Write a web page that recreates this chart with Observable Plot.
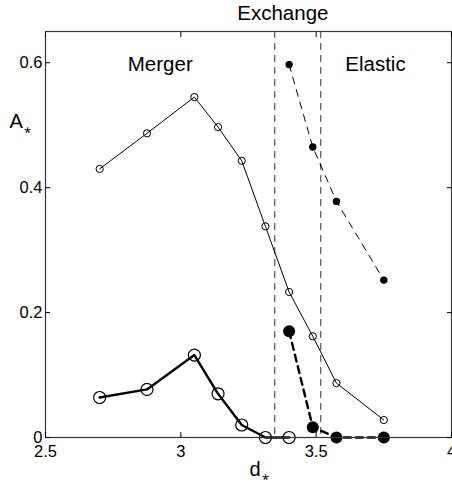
<!DOCTYPE html>
<html>
<head>
<meta charset="utf-8">
<script src="https://cdn.jsdelivr.net/npm/d3@7"></script>
<script src="https://cdn.jsdelivr.net/npm/@observablehq/plot@0.6"></script>
<style>
  html, body { margin: 0; padding: 0; background: #fff; }
</style>
</head>
<body>
<div id="chart"></div>
<script>
// Tick labels
const xTicks = [2.5, 3, 3.5, 4];
const yTicks = [0, 0.2, 0.4, 0.6];

// Series: thin solid line, small open circles
const thinOpenD = [2.7, 2.875, 3.05, 3.1375, 3.225, 3.3125, 3.4, 3.4875, 3.575, 3.75];
const thinOpenA = [0.430, 0.487, 0.545, 0.497, 0.443, 0.338, 0.233, 0.162, 0.087, 0.028];

// Series: thick solid line, large open circles
const thickOpenD = [2.7, 2.875, 3.05, 3.1375, 3.225, 3.3125, 3.4];
const thickOpenA = [0.064, 0.077, 0.132, 0.070, 0.020, 0, 0];

// Series: thin dashed line, small filled dots
const thinFilledD = [3.4, 3.4875, 3.575, 3.75];
const thinFilledA = [0.597, 0.465, 0.378, 0.252];

// Series: thick dashed line, large filled dots
const thickFilledD = [3.4, 3.4875, 3.575, 3.75];
const thickFilledA = [0.170, 0.0165, 0, 0];

// Regime boundaries
const boundaries = [3.347, 3.517];

// Regime labels
const regimeNames = ["Merger", "Exchange", "Elastic"];
const regimeX = [2.924, 3.377, 3.719];
const regimeY = [0.586, 0.668, 0.586];

// Axis titles
const yTitle = "A\u204E";
const xTitle = "d\u204E";

const toRows = (xs, ys) => xs.map((x, i) => ({x, y: ys[i]}));
const thinOpen = toRows(thinOpenD, thinOpenA);
const thickOpen = toRows(thickOpenD, thickOpenA);
const thinFilled = toRows(thinFilledD, thinFilledA);
const thickFilled = toRows(thickFilledD, thickFilledA);
const regimes = regimeNames.map((name, i) => ({name, x: regimeX[i], y: regimeY[i]}));

const font = "'Liberation Sans', Arial, Helvetica, sans-serif";

const chart = Plot.plot({
  width: 452,
  height: 483,
  marginLeft: 45,
  marginRight: 1,
  marginTop: 31,
  marginBottom: 46,
  style: {fontFamily: font, background: "#fff", color: "#000", overflow: "visible"},
  x: {domain: [2.5, 4]},
  y: {domain: [0, 0.65]},
  marks: [
    // vertical regime boundaries
    Plot.ruleX(boundaries, {stroke: "#333", strokeWidth: 1, strokeDasharray: "7,5"}),
    // thin solid with small open circles
    Plot.line(thinOpen, {x: "x", y: "y", stroke: "#000", strokeWidth: 1}),
    Plot.dot(thinOpen, {x: "x", y: "y", r: 3.6, stroke: "#000", strokeWidth: 1, fill: "none"}),
    // thick solid with large open circles
    Plot.line(thickOpen, {x: "x", y: "y", stroke: "#000", strokeWidth: 2.4}),
    Plot.dot(thickOpen, {x: "x", y: "y", r: 6, stroke: "#000", strokeWidth: 1.2, fill: "none"}),
    // thin dashed with small filled dots
    Plot.line(thinFilled, {x: "x", y: "y", stroke: "#000", strokeWidth: 1, strokeDasharray: "7,6"}),
    Plot.dot(thinFilled, {x: "x", y: "y", r: 3.7, fill: "#000"}),
    // thick dashed with large filled dots
    Plot.line(thickFilled, {x: "x", y: "y", stroke: "#000", strokeWidth: 2.4, strokeDasharray: "7,5"}),
    Plot.dot(thickFilled, {x: "x", y: "y", r: 6, fill: "#000"}),
    // frame
    Plot.frame({stroke: "#333", strokeWidth: 1.2}),
    // inward ticks
    Plot.axisX({ticks: xTicks, anchor: "bottom", tickSize: -5, tickFormat: () => "", label: null}),
    Plot.axisX({ticks: xTicks, anchor: "top", tickSize: -5, tickFormat: () => "", label: null}),
    Plot.axisY({ticks: yTicks, anchor: "left", tickSize: -5, tickFormat: () => "", label: null}),
    Plot.axisY({ticks: yTicks, anchor: "right", tickSize: -5, tickFormat: () => "", label: null}),
    // tick labels
    Plot.axisX({ticks: xTicks, anchor: "bottom", tickSize: 0, tickPadding: 8, fontSize: 16.5, tickFormat: d => String(d), label: null}),
    Plot.axisY({ticks: yTicks, anchor: "left", tickSize: 0, tickPadding: 3, fontSize: 16.5, tickFormat: d => String(d), label: null}),
    // regime labels
    Plot.text(regimes, {x: "x", y: "y", text: "name", fontSize: 20.5, textAnchor: "middle", lineAnchor: "bottom", fill: "#000", clip: false}),
    // axis titles
    Plot.text([yTitle], {frameAnchor: "left", y: 0.495, dx: -36, fontSize: 20, textAnchor: "start", lineAnchor: "bottom", fill: "#000"}),
    Plot.text([xTitle], {x: 3.254, frameAnchor: "bottom", dy: 38, fontSize: 20, textAnchor: "start", lineAnchor: "bottom", fill: "#000"})
  ]
});

// render the asterisk as a small lowered subscript
d3.select(chart).selectAll("text").each(function() {
  const t = this.textContent;
  if (t.length === 2 && t[1] === "\u204E") {
    const sel = d3.select(this);
    sel.text(null);
    sel.append("tspan").text(t[0]);
    sel.append("tspan").attr("font-size", 13).attr("dx", 1).attr("dy", "0.15em").text("\u204E");
  }
});

document.getElementById("chart").appendChild(chart);
</script>
</body>
</html>
